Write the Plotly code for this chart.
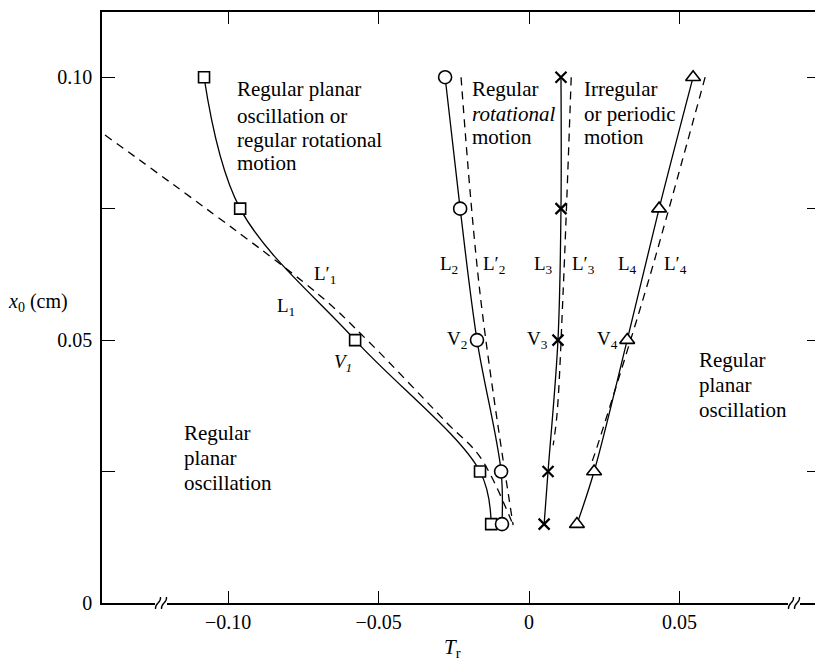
import plotly.graph_objects as go

# ---- figure geometry -------------------------------------------------------
W, H = 815, 660
ML, MR, MT, MB = 102, 0, 12, 57
X_RANGE = [-0.1419, 0.0950]
Y_RANGE = [0.0, 0.1124]
FONT = "Liberation Serif, Times New Roman, serif"

# ---- data: x0 levels and measured T_r of each marker series -----------------
x0_levels = [0.100, 0.075, 0.050, 0.025, 0.015]
tr_L1 = [-0.108, -0.096, -0.0578, -0.0163, -0.0126]   # squares
tr_L2 = [-0.0279, -0.0229, -0.0173, -0.0093, -0.0090]  # circles
tr_L3 = [0.0106, 0.0106, 0.0096, 0.0063, 0.0050]       # crosses
tr_L4 = [0.0545, 0.0432, 0.0326, 0.0216, 0.0159]       # triangles

# ---- data: dashed (primed) boundary curves ---------------------------------
L1p_tr = [-0.1409, -0.0704, -0.0538, -0.0272, -0.0163, -0.0053]
L1p_x0 = [0.0890, 0.0589, 0.0500, 0.0342, 0.0278, 0.0148]
L2p_tr = [-0.0226, -0.0163, -0.0053]
L2p_x0 = [0.100, 0.0589, 0.0148]
L3p_tr = [0.0140, 0.0113, 0.0093, 0.0080]
L3p_x0 = [0.100, 0.059, 0.036, 0.030]
L4p_tr = [0.0585, 0.0455, 0.0385, 0.0226, 0.0210]
L4p_x0 = [0.100, 0.073, 0.059, 0.0297, 0.027]

# ---- axis ticks ------------------------------------------------------------
x_tickvals = [-0.10, -0.05, 0.0, 0.05]
x_ticktext = ["\u22120.10", "\u22120.05", "0", "0.05"]
y_tickvals = [0.0, 0.025, 0.05, 0.075, 0.10]
y_ticktext = ["0", "", "0.05", "", "0.10"]


def px_x(px):
    """pixel column -> T_r value"""
    return X_RANGE[0] + (px - ML) / (W - ML - MR) * (X_RANGE[1] - X_RANGE[0])


def px_y(py):
    """pixel row -> x0 value"""
    return Y_RANGE[0] + (H - MB - py) / (H - MT - MB) * (Y_RANGE[1] - Y_RANGE[0])


def paper_x(px):
    return (px - ML) / (W - ML - MR)


def paper_y(py):
    return (H - MB - py) / (H - MT - MB)


fig = go.Figure()

line_style = dict(color="black", width=1.3)
dash_style = dict(color="black", width=1.3, dash="8px,6px")

# dashed theoretical boundaries
for xs, ys in [(L1p_tr, L1p_x0), (L2p_tr, L2p_x0), (L3p_tr, L3p_x0), (L4p_tr, L4p_x0)]:
    fig.add_trace(go.Scatter(x=xs, y=ys, mode="lines", line=dash_style,
                             line_shape="spline", hoverinfo="skip", showlegend=False))

# solid boundaries through the measured points
for xs in [tr_L1, tr_L2, tr_L3, tr_L4]:
    fig.add_trace(go.Scatter(x=xs, y=x0_levels, mode="lines", line=line_style,
                             line_shape="spline", hoverinfo="skip", showlegend=False))

# markers on top
marker_specs = [
    (tr_L1, "square", 11, "white", 1.6),
    (tr_L2, "circle", 13, "white", 1.6),
    (tr_L3, "x-thin", 11, "black", 2.2),
    (tr_L4, "triangle-up", 13, "white", 1.6),
]
for xs, sym, size, fill, lw in marker_specs:
    fig.add_trace(go.Scatter(
        x=xs, y=x0_levels, mode="markers", showlegend=False,
        marker=dict(symbol=sym, size=size, color=fill,
                    line=dict(color="black", width=lw)),
    ))

# invisible trace that carries the right-hand tick axis
fig.add_trace(go.Scatter(x=[None], y=[None], yaxis="y2", mode="markers",
                         showlegend=False, hoverinfo="skip"))

# ---- region and curve labels ----------------------------------------------
TXT = 21
annots = []


def add_text(text, px, py, anchor="left", size=TXT):
    annots.append(dict(text=text, x=px_x(px), y=px_y(py), xref="x", yref="y",
                       xanchor=anchor, yanchor="middle", showarrow=False,
                       font=dict(family=FONT, size=size, color="black")))


for txt, py in [("Regular planar", 89), ("oscillation or", 116),
                ("regular rotational", 140), ("motion", 163)]:
    add_text(txt, 235, py)
for txt, py in [("Regular", 89), ("<i>rotational</i>", 114), ("motion", 137)]:
    add_text(txt, 470, py)
for txt, py in [("Irregular", 89), ("or periodic", 114), ("motion", 137)]:
    add_text(txt, 582, py)
for txt, py in [("Regular", 360), ("planar", 385), ("oscillation", 410)]:
    add_text(txt, 697, py)
for txt, py in [("Regular", 433), ("planar", 458), ("oscillation", 483)]:
    add_text(txt, 182, py)

LBL = 19
for txt, px, py in [
    ("L\u2032<sub>1</sub>", 325, 275), ("L<sub>1</sub>", 286, 307),
    ("<i>V<sub>1</sub></i>", 343, 363),
    ("L<sub>2</sub>", 449, 265), ("L\u2032<sub>2</sub>", 494, 265),
    ("L<sub>3</sub>", 543, 265), ("L\u2032<sub>3</sub>", 583, 265),
    ("L<sub>4</sub>", 627, 265), ("L\u2032<sub>4</sub>", 675, 265),
    ("V<sub>2</sub>", 457, 340), ("V<sub>3</sub>", 537, 340),
    ("V<sub>4</sub>", 607, 340),
]:
    add_text(txt, px, py, anchor="center", size=LBL)

# axis titles
annots.append(dict(text="<i>T</i><sub>r</sub>", x=paper_x(452), y=paper_y(648),
                   xref="paper", yref="paper", xanchor="center", yanchor="middle",
                   showarrow=False, font=dict(family=FONT, size=21, color="black")))
annots.append(dict(text="<i>x</i><sub>0</sub> (cm)", x=paper_x(38), y=paper_y(302),
                   xref="paper", yref="paper", xanchor="center", yanchor="middle",
                   showarrow=False, font=dict(family=FONT, size=20, color="black")))

# ---- axis breaks on the T_r axis ------------------------------------------
shapes = []
for bx in [161, 794]:
    shapes.append(dict(type="rect", xref="paper", yref="paper",
                       x0=paper_x(bx - 6), x1=paper_x(bx + 6),
                       y0=paper_y(606), y1=paper_y(600),
                       fillcolor="white", line=dict(width=0), layer="above"))
    for dx in (-3, 3):
        cx = bx + dx
        p0 = (paper_x(cx - 2.5), paper_y(609))
        c1 = (paper_x(cx - 3.5), paper_y(603))
        c2 = (paper_x(cx + 3.5), paper_y(603))
        p1 = (paper_x(cx + 2.5), paper_y(597))
        path = (f"M {p0[0]},{p0[1]} C {c1[0]},{c1[1]} {c2[0]},{c2[1]} "
                f"{p1[0]},{p1[1]}")
        shapes.append(dict(type="path", xref="paper", yref="paper", path=path,
                           line=dict(color="black", width=1.3), layer="above"))

fig.update_layout(
    width=W, height=H,
    margin=dict(l=ML, r=MR, t=MT, b=MB, pad=0),
    paper_bgcolor="white", plot_bgcolor="white",
    font=dict(family=FONT, size=20, color="black"),
    annotations=annots, shapes=shapes,
    xaxis=dict(range=X_RANGE, tickvals=x_tickvals, ticktext=x_ticktext,
               ticks="inside", ticklen=12, tickwidth=1.4, tickcolor="black",
               showline=True, linecolor="black", linewidth=1.5, mirror="ticks",
               showgrid=False, zeroline=False, ticklabelstandoff=0,
               tickfont=dict(family=FONT, size=20)),
    yaxis=dict(range=Y_RANGE, tickvals=y_tickvals, ticktext=y_ticktext,
               ticks="inside", ticklen=13, tickwidth=1.4, tickcolor="black",
               showline=True, linecolor="black", linewidth=1.5,
               showgrid=False, zeroline=False, ticklabelstandoff=4,
               tickfont=dict(family=FONT, size=20)),
    yaxis2=dict(range=Y_RANGE, overlaying="y", side="right", anchor="x",
                tickvals=[0.025, 0.05, 0.075, 0.10], ticks="inside", ticklen=8,
                tickwidth=1.4, tickcolor="black", showline=False,
                showticklabels=False, showgrid=False, zeroline=False),
)

fig.write_html("out.html")
